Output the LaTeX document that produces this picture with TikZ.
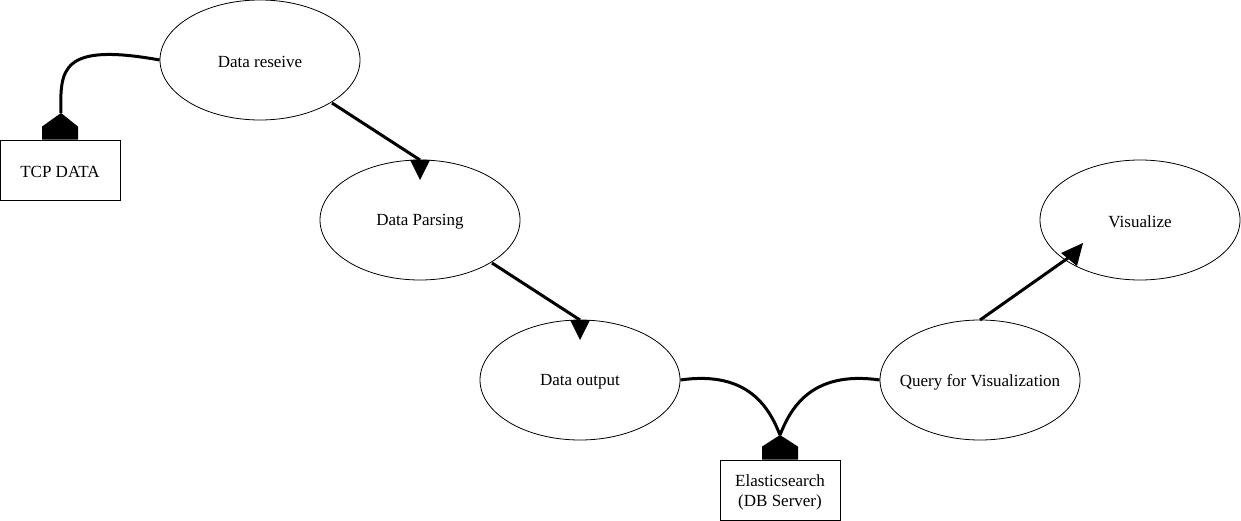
\documentclass[tikz,border=0pt]{standalone}
\usepackage{fontspec}
\setmainfont{Liberation Serif}
\usetikzlibrary{shapes.geometric,calc}
\begin{document}
\begin{tikzpicture}[x=1pt,y=-1pt,
  txt/.style={font=\fontsize{17}{20}\selectfont},
  ell/.style={draw,line width=0.8pt,ellipse,minimum width=200pt,minimum height=120pt,inner sep=0pt},
  boxn/.style={draw,line width=0.8pt,rectangle,minimum width=120pt,minimum height=60pt,inner sep=0pt},
  conn/.style={line width=3pt},
  tipfill/.style={fill=black}]
\useasboundingbox (0,0) rectangle (1241,521);
\node[ell,label={[txt,yshift=-2pt]center:Data reseive}] (recv) at (260,60) {};
\node[ell,label={[txt,yshift=-2pt]center:Data Parsing}] (parse) at (420,220) {};
\node[ell,label={[txt,yshift=-2pt]center:Data output}] (out) at (580,380) {};
\node[ell,label={[txt,yshift=-2pt]center:Query for Visualization}] (query) at (980,380) {};
\node[ell,label={[txt,yshift=-2pt]center:Visualize}] (vis) at (1140,220) {};
\node[boxn,label={[txt,yshift=-2pt]center:TCP DATA}] (tcp) at (60,170) {};
\node[boxn,label={[txt,align=center,yshift=-2pt]center:Elasticsearch\\(DB Server)}] (es) at (780,490) {};
% end markers (pentagons)
\coordinate (tcpm) at (61,113);
\coordinate (esm) at (780,435);
\fill[tipfill] ($(tcp.north)+(-18,0)$) -- ++(0,-13) -- (tcpm) -- ($(tcp.north)+(18,-13)$) -- ++(0,13) -- cycle;
\fill[tipfill] ($(es.north)+(-18,0)$) -- ++(0,-13) -- (esm) -- ($(es.north)+(18,-13)$) -- ++(0,13) -- cycle;
% curved connectors
\draw[conn] (recv.west) .. controls (60,42) and (60,70) .. (tcpm);
\draw[conn] (out.east) .. controls (750,370) and (770,410) .. (esm);
\draw[conn] (query.west) .. controls (810,370) and (790,410) .. (esm);
% straight arrows with downward triangles
\coordinate (p1) at (332,103);
\coordinate (t1) at (420,160);
\draw[conn] (p1) -- (t1);
\fill[tipfill] ($(t1)+(-10,0)$) -- ++(20,0) -- ++(-10,20) -- cycle;
\coordinate (p2) at (492,263);
\coordinate (t2) at (580,320);
\draw[conn] (p2) -- (t2);
\fill[tipfill] ($(t2)+(-10,0)$) -- ++(20,0) -- ++(-10,20) -- cycle;
\coordinate (p3) at (980,320);
\coordinate (t3) at (1068,258);
\draw[conn] (p3) -- (t3);
\fill[tipfill] (1083,243) -- (1061,253) -- (1077,266) -- cycle;
\end{tikzpicture}
\end{document}
